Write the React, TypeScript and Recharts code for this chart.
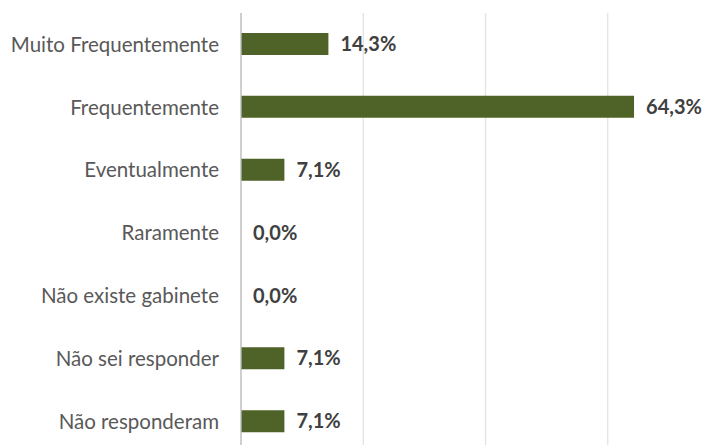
import { BarChart, Bar, XAxis, YAxis, CartesianGrid, LabelList } from "recharts";

const categories = [
  "Muito Frequentemente",
  "Frequentemente",
  "Eventualmente",
  "Raramente",
  "Não existe gabinete",
  "Não sei responder",
  "Não responderam",
];
const percents = [14.3, 64.3, 7.1, 0, 0, 7.1, 7.1];
const gridTicks = [0, 20, 40, 60, 80];

const data = categories.map((name, i) => ({ name, value: percents[i] }));
const fmt = (v: unknown) => `${Number(v).toFixed(1).replace(".", ",")}%`;
const font = "Lato, 'Open Sans', sans-serif";

export default function App() {
  return (
    <div style={{ position: "absolute", top: 0, left: 0, width: 725, height: 445, overflow: "hidden", background: "#fff" }}>
      <BarChart
        layout="vertical"
        width={730}
        height={460}
        data={data}
        margin={{ top: 13, right: 0, bottom: 7, left: 0 }}
      >
        <CartesianGrid horizontal={false} stroke="#e3e3e3" strokeWidth={1.3} />
        <XAxis type="number" domain={[0, 80]} ticks={gridTicks} hide />
        <YAxis
          type="category"
          dataKey="name"
          width={241}
          axisLine={{ stroke: "#bfbfbf", strokeWidth: 1.3 }}
          tickLine={false}
          tickSize={0}
          tickMargin={22}
          tick={{ fontSize: 20.5, fill: "#595959", fontFamily: font }}
          interval={0}
        />
        <Bar dataKey="value" fill="#4f6228" barSize={22} minPointSize={0.01} isAnimationActive={false}>
          <LabelList
            dataKey="value"
            position="right"
            offset={12}
            formatter={fmt}
            style={{ fontSize: 20, fontWeight: 700, fill: "#404040", fontFamily: font }}
          />
        </Bar>
      </BarChart>
    </div>
  );
}
